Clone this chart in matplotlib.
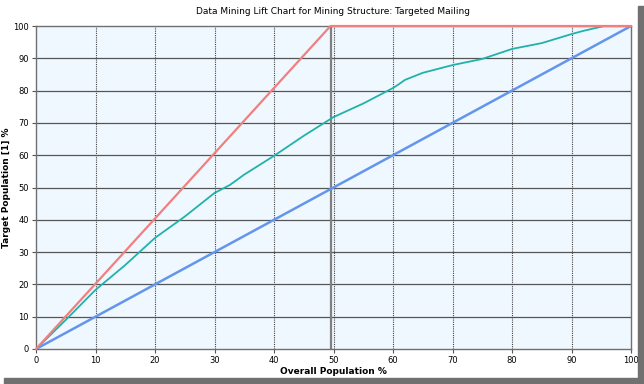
from matplotlib import pyplot as plt
from matplotlib.patches import Rectangle
import numpy as np

# lift chart data (percent of population vs percent of target)
ideal_x = [0, 49.5, 100]
ideal_y = [0, 100, 100]

model_x = [0, 5, 10, 15, 20, 25, 30, 32.6, 35, 40, 45, 50, 55, 60, 61, 62,
           65, 70, 75, 80, 85, 90, 92, 95.5, 100]
model_y = [0, 9, 18.3, 26, 34.4, 41, 48.3, 50.8, 54, 59.8, 66, 71.8, 76, 80.8,
           82, 83.3, 85.5, 87.9, 89.8, 92.9, 94.7, 97.5, 98.5, 100, 100]

random_x = [0, 100]
random_y = [0, 100]

ticks = list(range(0, 101, 10))

fig = plt.figure(figsize=(6.44, 3.84), dpi=100)
ax = fig.add_axes([36/644, 35/384, 595/644, 323/384])
ax.set_facecolor('#F0F8FF')

# grid: solid horizontal, dotted vertical
for t in ticks[1:-1]:
    ax.axhline(t, color='#555555', lw=0.9, zorder=1)
    ax.axvline(t, color='#444444', lw=0.8, ls=(0, (1, 1)), zorder=1)
ax.axvline(49.5, color='#808080', lw=1.6, zorder=1)

ax.plot(random_x, random_y, color='#6495ED', lw=1.8, zorder=3)
ax.plot(model_x, model_y, color='#20B2AA', lw=1.3, zorder=3)
ax.plot(ideal_x, ideal_y, color='#F08080', lw=1.6, zorder=4, clip_on=False)

ax.set_xlim(0, 100)
ax.set_ylim(0, 100)
ax.set_xticks(ticks)
ax.set_yticks(ticks)
ax.tick_params(labelsize=6, length=3, width=0.8, color='#555555', pad=2)
for s in ax.spines.values():
    s.set_color('#707070')
    s.set_linewidth(1.0)

ax.set_title('Data Mining Lift Chart for Mining Structure: Targeted Mailing',
             fontsize=6.5, pad=9)
ax.set_xlabel('Overall Population %', fontsize=6.5, fontweight='bold')
ax.set_ylabel('Target Population [1] %', fontsize=6.5, fontweight='bold')
ax.xaxis.set_label_coords(0.5, -0.057)
ax.yaxis.set_label_coords(-0.042, 0.5)

# screenshot shadow on the right and bottom
fig.patches.append(Rectangle((638/644, 0), 6/644, 378/384, transform=fig.transFigure,
                             color='#707070', zorder=0))
fig.patches.append(Rectangle((4/644, 0), 640/644, 6/384, transform=fig.transFigure,
                             color='#707070', zorder=0))

fig.savefig('out.png', dpi=100)
